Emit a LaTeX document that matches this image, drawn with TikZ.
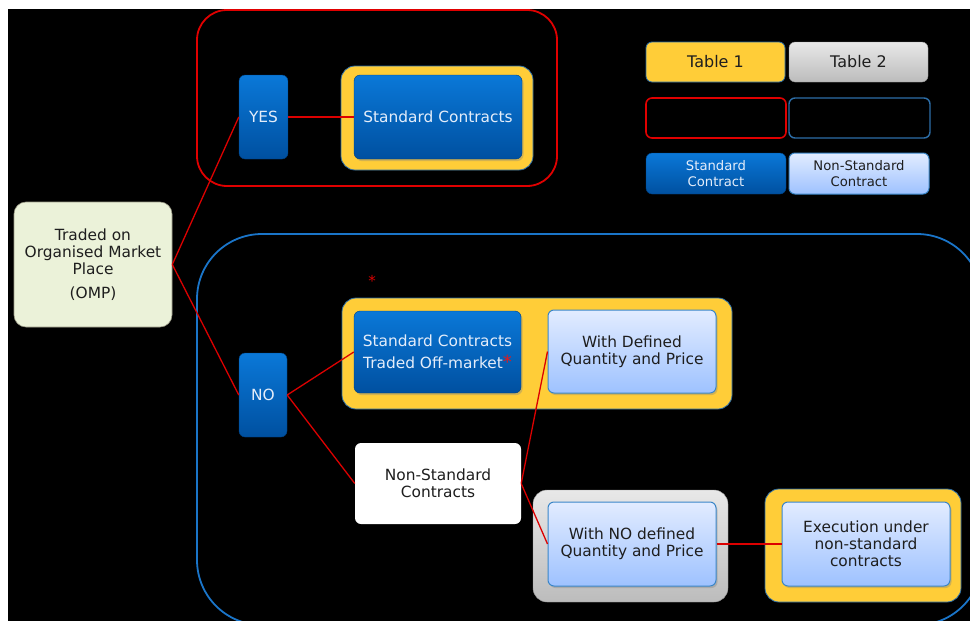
\documentclass[tikz,border=0pt]{standalone}
\usepackage{fontspec}
\setmainfont{DejaVu Sans}
\usetikzlibrary{shadows}
\definecolor{blueTop}{HTML}{0A78D8}
\definecolor{blueBot}{HTML}{0050A0}
\definecolor{lightTop}{HTML}{E2ECFF}
\definecolor{lightBot}{HTML}{9EC2FF}
\definecolor{lightEdge}{HTML}{3A86C8}
\definecolor{yel}{HTML}{FFCD38}
\definecolor{frameEdge}{HTML}{2D6EA8}
\definecolor{grayTop}{HTML}{E8E8E8}
\definecolor{grayBot}{HTML}{BCBCBC}
\definecolor{ompFill}{HTML}{EBF2D9}
\definecolor{ompEdge}{HTML}{9A9A86}
\definecolor{linkRed}{HTML}{DC0000}
\definecolor{starRed}{HTML}{E81818}
\definecolor{boxRed}{HTML}{E00000}
\definecolor{bigBlue}{HTML}{1A75C9}
\definecolor{txtDark}{HTML}{1E1E1E}
\definecolor{txtLight}{HTML}{E4EDFA}
\tikzset{
  base/.style={rectangle, inner sep=0pt, align=center, font=\fontsize{15.4}{17}\selectfont},
  bluebox/.style={base, rounded corners=6pt, top color=blueTop, bottom color=blueBot, draw=blueBot!80!black, line width=0.4pt, text=txtLight},
  lightbox/.style={base, rounded corners=6pt, top color=lightTop, bottom color=lightBot, draw=lightEdge, line width=1pt, text=txtDark},
  inshadow/.style={drop shadow={opacity=0.35, shadow xshift=1.5pt, shadow yshift=-2pt}},
  yframe/.style={rectangle, rounded corners=14pt, fill=yel, draw=frameEdge, line width=0.8pt},
  gframe/.style={rectangle, rounded corners=14pt, top color=grayTop, bottom color=grayBot, draw=grayBot!80!black, line width=0.4pt},
  link/.style={draw=linkRed, line width=1.3pt},
  redgroup/.style={rectangle, rounded corners=30pt, draw=boxRed, line width=1.8pt},
  bluegroup/.style={rectangle, rounded corners=65pt, draw=bigBlue, line width=1.8pt},
  legtext/.style={font=\fontsize{13.2}{16}\selectfont}
}
\begin{document}
\begin{tikzpicture}[x=1pt,y=-1pt]
\useasboundingbox (0,0) rectangle (970,621);
\fill[white] (0,0) rectangle (970,621);
\fill[black] (8,9) rectangle (970,621);

% group outlines
\node[redgroup, minimum width=360pt, minimum height=176pt] (redg) at (377,98) {};
\begin{scope}
\clip (8,9) rectangle (970,621);
\node[bluegroup, minimum width=785pt, minimum height=391pt] (blueg) at (589.5,429.5) {};
\end{scope}

% frames
\node[yframe, minimum width=192pt, minimum height=104pt] (f1) at (437,118) {};
\node[yframe, minimum width=390pt, minimum height=111pt] (f2) at (537,353.5) {};
\node[gframe, minimum width=195pt, minimum height=112pt] (f3) at (630.5,546) {};
\node[yframe, minimum width=196pt, minimum height=113pt] (f4) at (863,545.5) {};

% main nodes
\node[base, rounded corners=12pt, fill=ompFill, draw=ompEdge, line width=0.6pt, text=txtDark,
      minimum width=158pt, minimum height=125pt] (omp) at (93,264.5)
      {Traded on\\Organised Market\\Place\\[7pt](OMP)};
\node[bluebox, minimum width=49pt, minimum height=84pt] (yes) at (263.5,117) {YES};
\node[bluebox, inshadow, minimum width=168pt, minimum height=84pt] (std) at (438,117) {Standard Contracts};
\node[bluebox, minimum width=48pt, minimum height=84pt] (no) at (263,395) {NO};
\node[bluebox, inshadow, minimum width=167pt, minimum height=82pt] (sto) at (437.5,352)
      {Standard Contracts\\[5pt]Traded Off-market{\color{starRed}\fontsize{18}{17}\selectfont*}};
\node[lightbox, inshadow, minimum width=168pt, minimum height=83pt] (wdef) at (632,351.5)
      {With Defined\\Quantity and Price};
\node[base, rounded corners=6pt, fill=white, text=txtDark, minimum width=166pt, minimum height=81pt] (nonstd) at (438,483.5)
      {Non-Standard\\Contracts};
\node[lightbox, inshadow, minimum width=168pt, minimum height=84pt] (wno) at (632,544)
      {With NO defined\\Quantity and Price};
\node[lightbox, inshadow, minimum width=168pt, minimum height=84pt] (exec) at (866,544)
      {Execution under\\non-standard\\contracts};
\node[text=linkRed, font=\fontsize{15}{15}\selectfont, inner sep=0pt] (star) at (372,281) {*};

% legend
\node[base, rounded corners=6pt, fill=yel, draw=frameEdge, line width=0.8pt, text=txtDark,
      font=\fontsize{16}{18}\selectfont, minimum width=139pt, minimum height=40pt] (t1) at (715.5,62) {Table 1};
\node[base, rounded corners=6pt, top color=grayTop, bottom color=grayBot, draw=grayBot!80!black, line width=0.4pt, text=txtDark,
      font=\fontsize{16}{18}\selectfont, minimum width=139pt, minimum height=40pt] (t2) at (858.5,62) {Table 2};
\node[rectangle, rounded corners=6pt, draw=boxRed, line width=1.6pt, minimum width=140pt, minimum height=40pt] (lr) at (716,118) {};
\node[rectangle, rounded corners=6pt, draw=frameEdge, line width=1.4pt, minimum width=141pt, minimum height=40pt] (lb) at (859.5,118) {};
\node[bluebox, legtext, minimum width=140pt, minimum height=41pt] (ls) at (716,173.5) {Standard\\Contract};
\node[lightbox, legtext, minimum width=140pt, minimum height=41pt] (ln) at (859,173.5) {Non-Standard\\Contract};

% connectors
\draw[link] (omp.east) -- (yes.west);
\draw[link] (omp.east) -- (no.west);
\draw[link] (yes.east) -- (std.west);
\draw[link] (no.east) -- (sto.west);
\draw[link] (no.east) -- (nonstd.west);
\draw[link] (nonstd.east) -- (wdef.west);
\draw[link] (nonstd.east) -- (wno.west);
\draw[link] (wno.east) -- (exec.west);
\end{tikzpicture}
\end{document}
